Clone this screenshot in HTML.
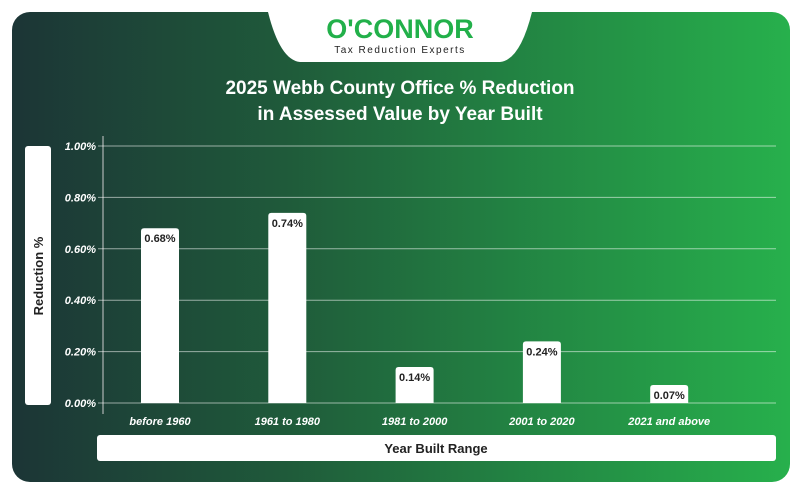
<!DOCTYPE html>
<html><head><meta charset="utf-8"><style>
body{margin:0;width:802px;height:494px;background:#fff;overflow:hidden;font-family:"Liberation Sans",sans-serif}
#card{position:absolute;left:12px;top:12px;width:778px;height:470px;border-radius:18px;background:linear-gradient(90deg,#1c3536 0%,#1f5a3a 35%,#238a44 70%,#27b04c 100%);overflow:hidden}
</style></head><body>
<div id="card"></div>
<svg width="802" height="494" style="position:absolute;left:0;top:0">
<path d="M268 12 L532 12 Q520 60 500 62 L300 62 Q280 60 268 12 Z" fill="#fff"/>
<text x="400" y="38" text-anchor="middle" font-size="27" font-weight="bold" fill="#22b04a">O'CONNOR</text>
<text x="400" y="53" text-anchor="middle" font-size="10" letter-spacing="1.5" fill="#222">Tax Reduction Experts</text>
<text x="400" y="94" text-anchor="middle" font-size="19" font-weight="bold" fill="#fff">2025 Webb County Office % Reduction</text>
<text x="400" y="120" text-anchor="middle" font-size="19" font-weight="bold" fill="#fff">in Assessed Value by Year Built</text>
<rect x="25" y="146" width="26" height="259" rx="3" fill="#fff"/>
<text transform="translate(43,276) rotate(-90)" text-anchor="middle" font-size="13" font-weight="bold" fill="#222">Reduction %</text>
<rect x="97" y="435" width="679" height="26" rx="3" fill="#fff"/>
<text x="436" y="453" text-anchor="middle" font-size="13" font-weight="bold" fill="#222">Year Built Range</text>
<g id="grid"></g><g id="bars"></g>
</svg>
<script>
const categories=["before 1960","1961 to 1980","1981 to 2000","2001 to 2020","2021 and above"];
const values=[0.68,0.74,0.14,0.24,0.07];
const ticks=[0,0.2,0.4,0.6,0.8,1.0];
const NS="http://www.w3.org/2000/svg";
const y0=403,y1=146,yMax=1.0;
const y=v=>y0-(v/yMax)*(y0-y1);
const x=i=>160+i*127.3;
function mk(t,a,p){const e=document.createElementNS(NS,t);for(const k in a)e.setAttribute(k,a[k]);p.appendChild(e);return e;}
const g=document.getElementById('grid'),b=document.getElementById('bars');
const ax=mk('line',{x1:103,x2:103,y1:136,y2:414,stroke:'#ccc','stroke-width':1},g);


ticks.forEach(t=>{
 const l=mk('line',{x1:98,x2:776,y1:y(t),y2:y(t),stroke:'rgba(255,255,255,0.55)','stroke-width':1},g);
 
 
 const tx=mk('text',{x:96,y:y(t)+4,'text-anchor':'end','font-size':11,'font-weight':'bold','font-style':'italic',fill:'#fff'},g);
 tx.textContent=t.toFixed(2)+'%';
 
 
});
values.forEach((v,i)=>{
 const top=y(v);
 const r=mk('path',{d:`M${x(i)-19} ${y0} L${x(i)-19} ${top+3} Q${x(i)-19} ${top} ${x(i)-16} ${top} L${x(i)+16} ${top} Q${x(i)+19} ${top} ${x(i)+19} ${top+3} L${x(i)+19} ${y0} Z`,fill:'#fff'},b);
 
 
 const lb=mk('text',{x:x(i),y:top+14,'text-anchor':'middle','font-size':11,'font-weight':'bold',fill:'#222'},b);
 lb.textContent=v.toFixed(2)+'%';
 
 
 const c=mk('text',{x:x(i),y:425,'text-anchor':'middle','font-size':11,'font-weight':'bold','font-style':'italic',fill:'#fff'},b);
 c.textContent=categories[i];
 
 
});
</script>
</body></html>
